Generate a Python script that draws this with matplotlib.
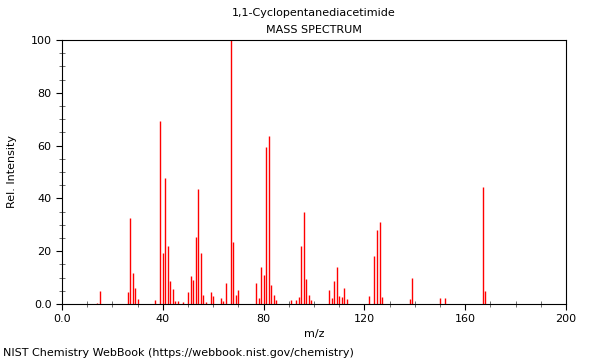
import matplotlib
matplotlib.use("Agg")
import matplotlib.pyplot as plt
from matplotlib.ticker import MultipleLocator, FuncFormatter

# peaks (m/z, relative intensity)
mz = [14, 15, 26, 27, 28, 29, 30, 37, 39, 40, 41, 42, 43, 44, 45, 46, 48,
      50, 51, 52, 53, 54, 55, 56, 57, 59, 60, 63, 64, 65, 67, 68, 69, 70,
      77, 78, 79, 80, 81, 82, 83, 84, 85, 91, 93, 94, 95, 96, 97, 98, 99,
      106, 107, 108, 109, 110, 111, 112, 113, 122, 124, 125, 126, 127,
      138, 139, 150, 152, 167, 168]
intensity = [0.5, 5.0, 4.7, 32.4, 11.6, 6.2, 2.0, 1.5, 69.3, 19.4, 47.8, 21.8, 8.7, 5.8, 1.1, 1.2, 0.7,
             4.7, 10.6, 9.1, 25.5, 43.6, 19.4, 3.3, 0.8, 4.4, 3.2, 2.4, 1.1, 8.0, 100.0, 23.5, 3.4, 5.3,
             7.8, 2.4, 13.9, 11.1, 59.5, 63.8, 7.2, 3.3, 1.5, 1.5, 1.5, 2.7, 22.0, 34.7, 9.5, 3.3, 1.5,
             5.3, 2.1, 8.7, 14.0, 3.0, 2.5, 5.9, 1.8, 3.0, 18.2, 28.0, 31.1, 2.7,
             1.9, 9.9, 2.1, 2.1, 44.4, 4.9]

title = "1,1-Cyclopentanediacetimide"
subtitle = "MASS SPECTRUM"
footer = "NIST Chemistry WebBook (https://webbook.nist.gov/chemistry)"

fig = plt.figure(figsize=(6, 3.6), dpi=100)
ax = fig.add_axes([62 / 600, 1 - 304 / 360, 504 / 600, 264 / 360])

ax.vlines(mz, 0, intensity, color="red", linewidth=1)

ax.set_xlim(0, 200)
ax.set_ylim(0, 100)

fmt = FuncFormatter(lambda v, p: "0.0" if v == 0 else f"{v:.0f}")
ax.xaxis.set_major_locator(MultipleLocator(40))
ax.xaxis.set_minor_locator(MultipleLocator(10))
ax.yaxis.set_major_locator(MultipleLocator(20))
ax.yaxis.set_minor_locator(MultipleLocator(5))
ax.xaxis.set_major_formatter(fmt)
ax.yaxis.set_major_formatter(fmt)
ax.tick_params(which="major", direction="out", length=4, width=0.8, labelsize=8)
ax.tick_params(which="minor", direction="inout", length=4, width=0.6, color="#555555")
ax.tick_params(top=False, right=False)

for s in ax.spines.values():
    s.set_linewidth(0.8)

ax.set_xlabel("m/z", fontsize=8, labelpad=3)
ax.set_ylabel("Rel. Intensity", fontsize=8, labelpad=10)

fig.text(314 / 600, 1 - 13 / 360, title, ha="center", va="center", fontsize=8)
fig.text(314 / 600, 1 - 30 / 360, subtitle, ha="center", va="center", fontsize=8)
fig.text(3 / 600, 1 - 353 / 360, footer, ha="left", va="center", fontsize=8)

fig.savefig("out.png", dpi=100)
